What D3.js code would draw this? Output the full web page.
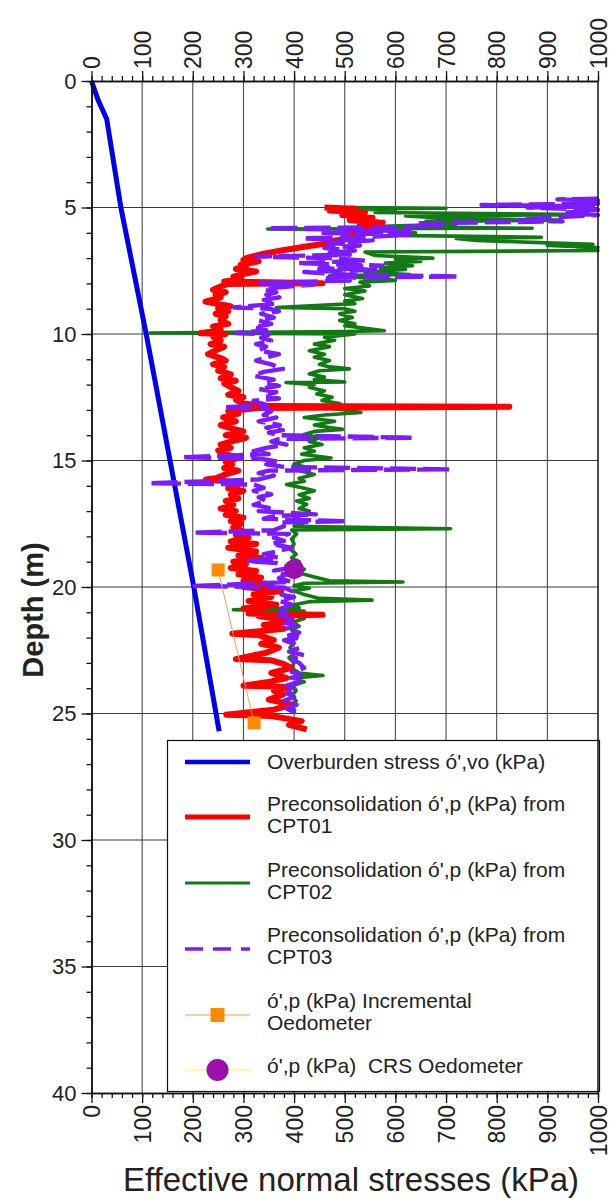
<!DOCTYPE html>
<html>
<head>
<meta charset="utf-8">
<script src="https://cdn.jsdelivr.net/npm/d3@7"></script>
<style>
  body { margin: 0; background: #fff; }
  svg { display: block; font-family: "Liberation Sans", Arial, Helvetica, sans-serif; }
</style>
</head>
<body>
<svg id="chart" width="613" height="1200"></svg>
<script>
// ---------- data ----------
const stressTicks = [0,100,200,300,400,500,600,700,800,900,1000];
const depthTicks = [0,5,10,15,20,25,30,35,40];
const xTitle = "Effective normal stresses (kPa)";
const yTitle = "Depth (m)";

// [depth (m), stress (kPa)]
const overburden = [[0,0],[0.75,13],[1.5,30],[5,58],[10,108],[15,155],[20,202],[25.7,252]];

const cpt01 = [[5.0,460],[5.05,520],[5.12,470],[5.2,540],[5.3,495],[5.4,555],[5.5,510],[5.6,575],[5.7,530],[5.8,560],[5.9,515],[6.0,545],[6.1,500],[6.2,530],[6.3,480],[6.4,470],[6.55,420],[6.7,375],[6.85,335],[7.0,305],[7.07,300],[7.13,330],[7.25,295],[7.33,305],[7.43,285],[7.53,325],[7.63,300],[7.73,280],[7.83,295],[7.92,262],[7.99,456],[8.02,270],[8.12,255],[8.25,240],[8.35,265],[8.45,245],[8.55,255],[8.72,225],[8.8,245],[8.9,275],[9.0,250],[9.1,270],[9.2,245],[9.3,265],[9.45,255],[9.6,270],[9.7,240],[9.85,255],[9.97,215],[10.0,265],[10.1,240],[10.26,255],[10.4,235],[10.5,262],[10.65,245],[10.8,230],[10.95,255],[11.05,265],[11.2,240],[11.3,262],[11.45,250],[11.6,275],[11.75,255],[11.85,285],[11.95,262],[12.1,275],[12.25,290],[12.4,270],[12.5,300],[12.6,285],[12.75,300],[12.85,340],[12.88,825],[12.92,330],[13.05,270],[13.15,290],[13.3,260],[13.45,285],[13.6,255],[13.75,280],[13.85,300],[14.0,265],[14.1,305],[14.25,275],[14.37,255],[14.5,275],[14.6,250],[14.75,265],[14.9,290],[15.05,265],[15.15,278],[15.3,262],[15.4,290],[15.55,265],[15.7,245],[15.75,226],[15.82,265],[15.95,290],[16.1,270],[16.2,300],[16.35,275],[16.5,290],[16.6,265],[16.75,280],[16.9,255],[17.0,285],[17.15,265],[17.26,300],[17.4,275],[17.5,295],[17.65,280],[17.8,300],[17.95,285],[18.05,310],[18.2,275],[18.3,325],[18.45,270],[18.6,325],[18.75,290],[18.85,335],[19.0,280],[19.1,305],[19.25,275],[19.37,325],[19.5,290],[19.63,335],[19.75,300],[19.9,355],[20.0,300],[20.16,375],[20.3,320],[20.4,355],[20.55,310],[20.7,365],[20.85,300],[20.95,335],[21.05,310],[21.1,456],[21.15,330],[21.35,395],[21.5,340],[21.65,380],[21.85,278],[21.9,330],[22.1,360],[22.25,335],[22.4,370],[22.6,345],[22.85,285],[22.9,355],[23.05,380],[23.2,395],[23.4,355],[23.6,385],[23.75,350],[23.9,300],[23.95,395],[24.1,360],[24.25,378],[24.45,350],[24.65,395],[24.85,360],[25.05,266],[25.1,355],[25.3,415],[25.45,390],[25.63,425]];

const cpt02 = [[5.0,510],[5.03,700],[5.06,520],[5.12,600],[5.2,560],[5.28,983],[5.33,620],[5.42,700],[5.5,924],[5.55,660],[5.65,720],[5.75,560],[5.82,870],[5.85,348],[5.9,560],[6.0,640],[6.1,600],[6.18,888],[6.22,720],[6.3,760],[6.4,900],[6.45,990],[6.5,900],[6.58,1000],[6.65,960],[6.7,1000],[6.76,540],[6.9,560],[7.0,674],[7.05,600],[7.13,650],[7.2,580],[7.3,634],[7.38,570],[7.45,620],[7.55,540],[7.65,628],[7.7,470],[7.8,560],[7.88,600],[7.95,530],[8.1,549],[8.2,500],[8.3,540],[8.45,500],[8.6,535],[8.7,500],[8.8,520],[8.95,365],[9.0,500],[9.1,520],[9.2,490],[9.35,515],[9.47,490],[9.6,520],[9.67,500],[9.87,578],[9.9,500],[9.96,115],[10.0,520],[10.13,460],[10.25,480],[10.4,440],[10.5,470],[10.66,430],[10.8,460],[10.92,440],[11.05,470],[11.2,450],[11.3,470],[11.38,509],[11.45,450],[11.58,430],[11.7,460],[11.8,440],[11.9,500],[11.92,384],[12.0,440],[12.1,430],[12.25,460],[12.37,445],[12.5,475],[12.63,455],[12.75,490],[12.9,460],[13.0,500],[13.1,532],[13.2,460],[13.3,420],[13.45,480],[13.6,440],[13.7,470],[13.77,496],[13.85,440],[13.97,420],[14.1,450],[14.25,430],[14.37,455],[14.5,420],[14.63,440],[14.75,415],[14.9,473],[15.0,420],[15.15,400],[15.3,430],[15.4,410],[15.55,440],[15.7,410],[15.82,420],[15.95,385],[16.1,420],[16.2,440],[16.35,410],[16.5,430],[16.6,405],[16.74,425],[16.9,410],[17.0,430],[17.15,415],[17.3,400],[17.45,420],[17.6,400],[17.7,709],[17.75,395],[17.9,405],[18.1,395],[18.3,400],[18.5,392],[18.7,404],[18.85,395],[19.0,410],[19.15,400],[19.3,420],[19.45,410],[19.6,440],[19.75,470],[19.8,615],[19.85,420],[19.95,400],[20.05,430],[20.15,400],[20.3,420],[20.45,450],[20.52,554],[20.58,430],[20.7,400],[20.82,410],[20.9,280],[20.95,420],[21.1,400],[21.25,420],[21.4,395],[21.55,410],[21.7,395],[21.85,405],[22.0,390],[22.2,400],[22.4,392],[22.6,404],[22.8,390],[23.0,400],[23.2,395],[23.4,410],[23.5,457],[23.6,400],[23.75,420],[23.9,398],[24.1,404],[24.3,395],[24.5,404],[24.7,396],[24.9,402]];

const cpt03 = [[4.65,1000],[4.68,920],[4.72,1000],[4.78,960],[4.85,1000],[4.9,770],[4.95,990],[5.0,860],[5.1,1000],[5.2,940],[5.3,1000],[5.4,900],[5.5,840],[5.55,930],[5.62,640],[5.7,690],[5.78,600],[5.82,348],[5.88,560],[5.95,628],[6.0,450],[6.08,628],[6.15,560],[6.22,417],[6.3,555],[6.4,470],[6.5,530],[6.6,460],[6.7,520],[6.8,470],[6.87,510],[6.94,325],[7.0,470],[7.1,540],[7.2,407],[7.3,575],[7.4,450],[7.46,560],[7.55,420],[7.65,500],[7.73,726],[7.78,460],[7.88,520],[7.98,333],[8.05,440],[8.15,371],[8.25,340],[8.35,365],[8.45,345],[8.55,371],[8.65,340],[8.8,365],[8.95,282],[9.0,350],[9.1,370],[9.2,335],[9.35,360],[9.47,330],[9.6,355],[9.74,320],[9.85,345],[9.96,286],[10.02,350],[10.15,335],[10.26,355],[10.4,325],[10.5,345],[10.65,330],[10.8,370],[10.95,340],[11.05,325],[11.2,355],[11.38,378],[11.5,340],[11.65,320],[11.8,360],[11.9,340],[12.05,370],[12.17,330],[12.3,365],[12.44,340],[12.55,370],[12.64,320],[12.8,345],[12.9,259],[12.95,340],[13.05,355],[13.2,340],[13.3,365],[13.45,330],[13.6,372],[13.7,345],[13.8,378],[13.9,350],[14.0,372],[14.1,634],[14.15,370],[14.25,355],[14.37,385],[14.5,345],[14.63,320],[14.75,350],[14.87,177],[14.92,330],[15.05,370],[15.15,345],[15.25,380],[15.35,707],[15.4,350],[15.5,330],[15.6,360],[15.75,330],[15.9,115],[15.95,320],[16.08,340],[16.2,320],[16.34,355],[16.45,330],[16.6,345],[16.75,320],[16.87,350],[17.0,330],[17.13,443],[17.2,360],[17.3,340],[17.4,503],[17.45,370],[17.6,380],[17.75,360],[17.85,204],[17.9,390],[18.05,360],[18.18,380],[18.3,355],[18.45,395],[18.6,365],[18.7,340],[18.85,370],[18.97,305],[19.05,365],[19.24,395],[19.35,360],[19.5,385],[19.65,370],[19.8,395],[19.96,203],[20.02,380],[20.16,395],[20.3,375],[20.4,400],[20.55,370],[20.7,395],[20.85,375],[21.0,390],[21.1,370],[21.25,395],[21.4,375],[21.5,405],[21.65,385],[21.8,410],[21.9,390],[22.0,415],[22.1,380],[22.25,400],[22.4,412],[22.55,390],[22.7,420],[22.85,395],[23.0,410],[23.2,420],[23.35,395],[23.5,415],[23.6,390],[23.75,410],[23.9,385],[24.05,405],[24.2,385],[24.35,400],[24.5,380],[24.65,405],[24.8,385],[24.95,400],[25.1,390]];

const incOedometer = [[19.33,250],[25.37,321]];
const crsOedometer = [[19.3,400]];

const legendLabels = [
  ["Overburden stress ó',vo (kPa)"],
  ["Preconsolidation ó',p (kPa) from", "CPT01"],
  ["Preconsolidation ó',p (kPa) from", "CPT02"],
  ["Preconsolidation ó',p (kPa) from", "CPT03"],
  ["ó',p (kPa) Incremental", "Oedometer"],
  ["ó',p (kPa)  CRS Oedometer"]
];

// ---------- drawing ----------
const svg = d3.select("#chart");
const x = d3.scaleLinear().domain([0, 1000]).range([91.5, 598]);
const y = d3.scaleLinear().domain([0, 40]).range([81, 1093]);

const gridColor = "#3a3a3a";
// grid
svg.append("g").selectAll("line").data(stressTicks.filter(t => t > 0 && t < 1000)).join("line")
  .attr("x1", d => x(d)).attr("x2", d => x(d)).attr("y1", y(0)).attr("y2", y(40))
  .attr("stroke", gridColor).attr("stroke-width", 1);
svg.append("g").selectAll("line").data(depthTicks.filter(t => t > 0 && t < 40)).join("line")
  .attr("x1", x(0)).attr("x2", x(1000)).attr("y1", d => y(d)).attr("y2", d => y(d))
  .attr("stroke", gridColor).attr("stroke-width", 1);

const line = d3.line().x(p => x(p[1])).y(p => y(p[0]));

svg.append("path").datum(overburden).attr("d", line)
  .attr("fill", "none").attr("stroke", "#0000f0").attr("stroke-width", 5);

svg.append("path").datum(cpt02).attr("d", line)
  .attr("fill", "none").attr("stroke", "#127a12").attr("stroke-width", 3.6).attr("stroke-linejoin", "round");
svg.append("path").datum(cpt01).attr("d", line)
  .attr("fill", "none").attr("stroke", "#ff0000").attr("stroke-width", 6).attr("stroke-linejoin", "round");
svg.append("path").datum(cpt03).attr("d", line)
  .attr("fill", "none").attr("stroke", "#7a1cff").attr("stroke-width", 4.4)
  .attr("stroke-dasharray", "26,7").attr("stroke-linejoin", "round");

// incremental oedometer
svg.append("path").datum(incOedometer).attr("d", line)
  .attr("fill", "none").attr("stroke", "#f0a050").attr("stroke-width", 1);
svg.append("g").selectAll("rect").data(incOedometer).join("rect")
  .attr("x", p => x(p[1]) - 6.5).attr("y", p => y(p[0]) - 6.5)
  .attr("width", 13).attr("height", 13).attr("fill", "#ff8a00");
// CRS oedometer
svg.append("g").selectAll("circle").data(crsOedometer).join("circle")
  .attr("cx", p => x(p[1])).attr("cy", p => y(p[0])).attr("r", 10)
  .attr("fill", "#9c0fae");

// legend
const lg = svg.append("g");
lg.append("rect").attr("x", 167.5).attr("y", 740.5).attr("width", 432).attr("height", 351)
  .attr("fill", "#fff").attr("stroke", "#111").attr("stroke-width", 1.2);
const symY = [762, 817, 883, 949, 1015, 1070];
const txtY = [769, 811, 877, 942, 1008, 1073];
const lineH = 21.5;
const symX0 = 185, symX1 = 250;
const styles = [
  {c: "#0000f0", w: 4.5},
  {c: "#ff0000", w: 5},
  {c: "#127a12", w: 3},
  {c: "#7a1cff", w: 3.5, dash: "18,10"},
  {c: "#f0a050", w: 1},
  {c: "#ffff70", w: 1.5}
];
legendLabels.forEach((lab, i) => {
  const s = styles[i];
  const l = lg.append("line").attr("x1", symX0).attr("x2", symX1).attr("y1", symY[i]).attr("y2", symY[i])
    .attr("stroke", s.c).attr("stroke-width", s.w);
  if (s.dash) l.attr("stroke-dasharray", s.dash);
  const t = lg.append("text").attr("x", 267).attr("y", txtY[i]).attr("font-size", 21)
    .attr("fill", "#222").style("white-space", "pre");
  lab.forEach((str, j) => t.append("tspan").attr("x", 267).attr("dy", j === 0 ? 0 : lineH).text(str));
});
lg.append("rect").attr("x", 217.5 - 7).attr("y", symY[4] - 7).attr("width", 14).attr("height", 14).attr("fill", "#ff8a00");
lg.append("circle").attr("cx", 217.5).attr("cy", symY[5]).attr("r", 11).attr("fill", "#9c0fae");

// axes
const axisColor = "#111";
function styleAxis(g) {
  g.select(".domain").attr("stroke", axisColor).attr("stroke-width", 1.5);
  g.selectAll(".tick line").attr("stroke", axisColor).attr("stroke-width", 1.3);
}
const minorX = d3.range(0, 1001, 20);
const minorY = d3.range(0, 41, 1);

// top
svg.append("g").attr("transform", `translate(0,${y(0)})`)
  .call(d3.axisTop(x).tickValues(minorX).tickSize(5).tickFormat("").tickSizeOuter(0)).call(styleAxis);
const topAx = svg.append("g").attr("transform", `translate(0,${y(0)})`)
  .call(d3.axisTop(x).tickValues(stressTicks).tickSize(10).tickSizeOuter(0).tickFormat(d3.format("d")));
styleAxis(topAx);
topAx.selectAll(".tick text").attr("font-size", 23).attr("fill", "#222")
  .attr("font-family", "Liberation Sans, Arial, sans-serif")
  .attr("transform", "rotate(-90)").attr("text-anchor", "start")
  .attr("x", 12).attr("y", 0).attr("dy", "0.35em");

// bottom
svg.append("g").attr("transform", `translate(0,${y(40)})`)
  .call(d3.axisBottom(x).tickValues(minorX).tickSize(5).tickFormat("").tickSizeOuter(0)).call(styleAxis);
const botAx = svg.append("g").attr("transform", `translate(0,${y(40)})`)
  .call(d3.axisBottom(x).tickValues(stressTicks).tickSize(10).tickSizeOuter(0).tickFormat(d3.format("d")));
styleAxis(botAx);
botAx.selectAll(".tick text").attr("font-size", 23).attr("fill", "#222")
  .attr("font-family", "Liberation Sans, Arial, sans-serif")
  .attr("transform", "rotate(-90)").attr("text-anchor", "end")
  .attr("x", -12).attr("y", 0).attr("dy", "0.35em");

// left
svg.append("g").attr("transform", `translate(${x(0)},0)`)
  .call(d3.axisLeft(y).tickValues(minorY).tickSize(5).tickFormat("").tickSizeOuter(0)).call(styleAxis);
const leftAx = svg.append("g").attr("transform", `translate(${x(0)},0)`)
  .call(d3.axisLeft(y).tickValues(depthTicks).tickSize(10).tickSizeOuter(0));
styleAxis(leftAx);
leftAx.selectAll(".tick text").attr("font-size", 22).attr("fill", "#222")
  .attr("font-family", "Liberation Sans, Arial, sans-serif").attr("x", -15);

// right frame
svg.append("line").attr("x1", x(1000)).attr("x2", x(1000)).attr("y1", y(0)).attr("y2", y(40))
  .attr("stroke", axisColor).attr("stroke-width", 1.5);

// titles
svg.append("text").attr("x", 351).attr("y", 1191).attr("text-anchor", "middle")
  .attr("font-size", 33).attr("fill", "#222").text(xTitle);
svg.append("text").attr("transform", `translate(43,610) rotate(-90)`)
  .attr("text-anchor", "middle").attr("font-size", 29).attr("font-weight", "bold")
  .attr("fill", "#222").text(yTitle);
</script>
</body>
</html>
